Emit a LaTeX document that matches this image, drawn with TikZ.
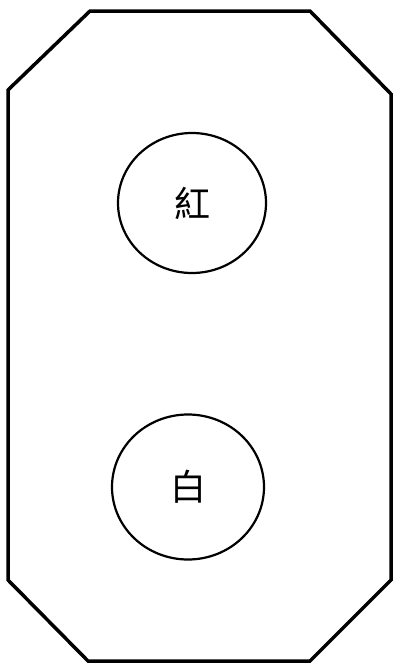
\documentclass[tikz,border=0pt]{standalone}
\usepackage{fontspec}
\newfontfamily\cjk{Noto Sans CJK TC}
\usetikzlibrary{shapes.geometric}
\tikzset{
  ball/.style={ellipse, draw, line width=2.2pt, inner sep=0pt,
    font=\cjk\fontsize{36}{36}\selectfont},
}
\begin{document}
\begin{tikzpicture}[x=1pt, y=-1pt]
  \useasboundingbox (0,0) rectangle (393,664);

  % Outer octagon
  \draw[line width=3.5pt, line join=miter]
    (90,11) -- (310,11) -- (391,94) -- (391,580) -- (310,661)
    -- (88,661) -- (8,580) -- (8,90) -- cycle;

  % Two balls
  \node[ball, minimum width=148pt, minimum height=140pt] (red) at (192,203) {紅};
  \node[ball, minimum width=152pt, minimum height=145pt] (white) at (188,487) {白};
\end{tikzpicture}
\end{document}
